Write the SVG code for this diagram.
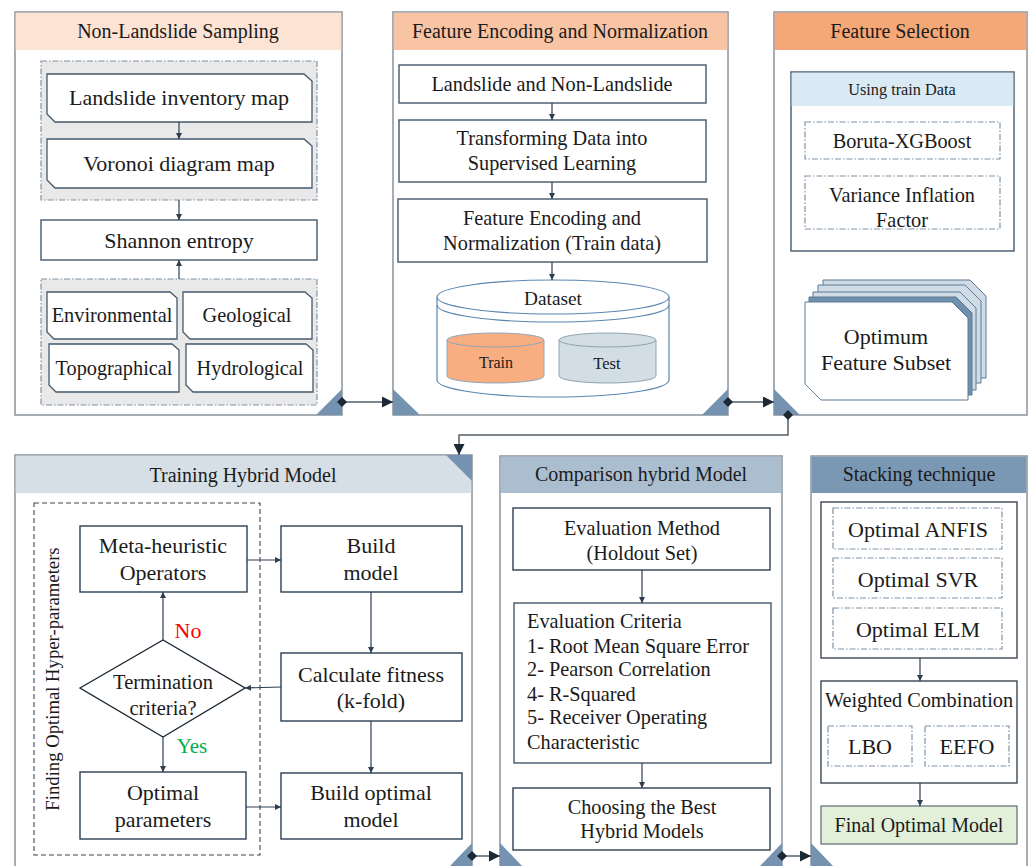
<svg xmlns="http://www.w3.org/2000/svg" width="1031" height="866" viewBox="0 0 1031 866" font-family="'Liberation Serif', 'Times New Roman', Times, serif">
<defs>
<style>
text{fill:#1b1b1b;text-anchor:middle;font-family:'Liberation Serif','Times New Roman',Times,serif}
text.l{text-anchor:start}
.panel{fill:#fff;stroke:#8a939c;stroke-width:1.5}
.box{fill:#fff;stroke:#2c3e50;stroke-width:1.4}
.cbox{fill:#fff;stroke:#44586c;stroke-width:1.3}
.grp{fill:#e9e9e9;stroke:#7f93a8;stroke-width:1.2;stroke-dasharray:6 2 1.5 2}
.dbox{fill:#fff;stroke:#7f93a8;stroke-width:1.2;stroke-dasharray:6 2 1.5 2}
.tri{fill:#7593b0;stroke:none}
.ln{fill:none;stroke:#2c3e50;stroke-width:1.2}
.cn{fill:none;stroke:#555f69;stroke-width:1.5}
.t22{font-size:22px}
.t20{font-size:20.3px}
.hd{font-size:20px}
</style>
<marker id="ah" viewBox="0 0 10 10" refX="10" refY="5" markerWidth="6" markerHeight="6" markerUnits="userSpaceOnUse" orient="auto"><path d="M0,0 L10,5 L0,10 z" fill="#2c3e50"/></marker>
<marker id="ahb" viewBox="0 0 10 10" refX="10" refY="5" markerWidth="11" markerHeight="11" markerUnits="userSpaceOnUse" orient="auto"><path d="M0,0 L10,5 L0,10 z" fill="#1c2833"/></marker>
<marker id="dm" viewBox="0 0 10 10" refX="5" refY="5" markerWidth="10" markerHeight="10" markerUnits="userSpaceOnUse" orient="auto"><path d="M5,0 L10,5 L5,10 L0,5 z" fill="#1c2833"/></marker>
</defs>

<!-- Panel 1 -->
<g id="panel-non-landslide">
<rect class="panel" x="15" y="12" width="327" height="403"/>
<rect x="15.75" y="12.75" width="325.5" height="37.25" fill="#fce3d4"/>
<text class="hd" x="178" y="38">Non-Landslide Sampling</text>
<rect class="grp" x="41" y="61" width="276" height="139"/>
<path class="cbox" d="M47,74 H304 L312,81 V122 H55 L47,114 Z"/>
<text class="t22" x="179" y="105">Landslide inventory map</text>
<path class="cbox" d="M47,139 H304 L312,146 V188 H55 L47,180 Z"/>
<text class="t22" x="179" y="171">Voronoi diagram map</text>
<rect class="box" x="41" y="220" width="276" height="40" style="stroke:#44586c"/>
<text class="t22" x="179" y="248">Shannon entropy</text>
<rect class="grp" x="41" y="279" width="276" height="126"/>
<path class="cbox" d="M47,292 H170 L177,298 V339 H54 L47,332 Z"/>
<text class="t20" x="112" y="322">Environmental</text>
<path class="cbox" d="M183,292 H305 L312,298 V339 H190 L183,332 Z"/>
<text class="t20" x="247" y="322">Geological</text>
<path class="cbox" d="M49,344 H172 L179,350 V392 H56 L49,385 Z"/>
<text class="t20" x="114" y="375">Topographical</text>
<path class="cbox" d="M186,344 H306 L313,350 V392 H193 L186,385 Z"/>
<text class="t20" x="250" y="375">Hydrological</text>
<path class="tri" d="M342,389 V415 H316 Z"/>
</g>

<!-- Panel 2 -->
<g id="panel-encoding">
<rect class="panel" x="393" y="12" width="335" height="403"/>
<rect x="393.75" y="12.75" width="333.5" height="37.25" fill="#f9c4a4"/>
<text class="hd" x="560" y="38">Feature Encoding and Normalization</text>
<rect class="box" x="399" y="65" width="307" height="38" style="stroke:#44586c"/>
<text class="t20" x="552" y="91">Landslide and Non-Landslide</text>
<rect class="box" x="399" y="120" width="307" height="62" style="stroke:#44586c"/>
<text class="t20" x="552" y="145">Transforming Data into</text>
<text class="t20" x="552" y="170">Supervised Learning</text>
<rect class="box" x="398" y="199" width="309" height="63" style="stroke:#44586c"/>
<text class="t20" x="552" y="225">Feature Encoding and</text>
<text class="t20" x="552" y="250">Normalization (Train data)</text>
<g id="dataset">
<path d="M437,297 V380 A116,17 0 0 0 669,380 V297" fill="#fff" stroke="#5b86b0" stroke-width="1.2"/>
<ellipse cx="553" cy="297" rx="116" ry="17" fill="#fff" stroke="#5b86b0" stroke-width="1.2"/>
<path d="M437,305 A116,17 0 0 0 669,305" fill="none" stroke="#5b86b0" stroke-width="1.2"/>
<text x="553" y="305" style="font-size:19.3px">Dataset</text>
<path d="M447,340 V376 A48.5,7 0 0 0 544,376 V340" fill="#f8ae80" stroke="#8fa6bc" stroke-width="1"/>
<ellipse cx="495.5" cy="340" rx="48.5" ry="7" fill="#f8ae80" stroke="#8fa6bc" stroke-width="1"/>
<text x="496" y="368" style="font-size:16px">Train</text>
<path d="M559,340 V376 A48.5,7 0 0 0 656,376 V340" fill="#d3dde4" stroke="#8fa3b5" stroke-width="1"/>
<ellipse cx="607.5" cy="340" rx="48.5" ry="7" fill="#d3dde4" stroke="#8fa3b5" stroke-width="1"/>
<text x="607" y="369" style="font-size:16.5px">Test</text>
</g>
<path class="tri" d="M393,389 V415 H420 Z"/>
<path class="tri" d="M728,389 V415 H702 Z"/>
</g>

<!-- Panel 3 -->
<g id="panel-selection">
<rect class="panel" x="774" y="12" width="253" height="403"/>
<rect x="774.75" y="12.75" width="251.5" height="37.25" fill="#f4a878"/>
<text class="hd" x="900" y="38">Feature Selection</text>
<rect class="box" x="791" y="72" width="223" height="179" style="stroke:#44586c"/>
<rect x="791.7" y="72.7" width="221.6" height="33.3" fill="#daeaf5"/>
<text x="902" y="95" style="font-size:16.3px">Using train Data</text>
<rect class="dbox" x="805" y="122" width="195" height="37"/>
<text class="t20" x="902" y="148">Boruta-XGBoost</text>
<rect class="dbox" x="805" y="176" width="195" height="53"/>
<text class="t20" x="902" y="202">Variance Inflation</text>
<text class="t20" x="902" y="227">Factor</text>
<g id="stack">
<path d="M823,280 H970 L986,296 V378 H839 L823,362 Z" fill="#cfdbe5" stroke="#5f7a94" stroke-width="1"/>
<path d="M818,285 H965 L981,301 V383 H834 L818,367 Z" fill="#cfdbe5" stroke="#5f7a94" stroke-width="1"/>
<path d="M813,292 H960 L976,308 V390 H829 L813,374 Z" fill="#cfdbe5" stroke="#5f7a94" stroke-width="1"/>
<path d="M809,297 H956 L972,313 V395 H825 L809,379 Z" fill="#6f8fae" stroke="#5f7a94" stroke-width="1"/>
<path d="M805,302 H952 L968,318 V400 H821 L805,384 Z" fill="#fff" stroke="#5f7a94" stroke-width="1"/>
<text class="t22" x="886" y="344">Optimum</text>
<text class="t22" x="886" y="370">Feature Subset</text>
</g>
<path class="tri" d="M774,389 V415 H800 Z"/>
</g>

<!-- Panel 4 -->
<g id="panel-training">
<rect class="panel" x="15" y="455" width="457" height="420"/>
<rect x="15.75" y="455.75" width="455.5" height="37.25" fill="#d6dfe6"/>
<text class="hd" x="243" y="482">Training Hybrid Model</text>
<path class="tri" d="M446,455 H472 V481 Z"/>
<rect x="34" y="503" width="226" height="352" fill="none" stroke="#3c4650" stroke-width="1.1" stroke-dasharray="5 3"/>
<text transform="translate(59,679) rotate(-90)" style="font-size:18.7px">Finding Optimal Hyper-parameters</text>
<g id="meta"><rect class="box" x="80" y="526" width="167" height="66"/>
<text class="t22" x="163" y="553">Meta-heuristic</text><text class="t22" x="163" y="580">Operators</text></g>
<g id="build"><rect class="box" x="281" y="526" width="181" height="66"/>
<text class="t22" x="371" y="553">Build</text><text class="t22" x="371" y="580">model</text></g>
<g id="calc"><rect class="box" x="281" y="653" width="181" height="68"/>
<text class="t22" x="371" y="682">Calculate fitness</text><text class="t22" x="371" y="708">(k-fold)</text></g>
<g id="term"><path d="M80,688 L163,640 L245,688 L163,737 Z" fill="#fff" stroke="#1c2833" stroke-width="1.4"/>
<text x="163" y="689" style="font-size:20.5px">Termination</text><text x="163" y="715" style="font-size:20.5px">criteria?</text></g>
<g id="optpar"><rect class="box" x="80" y="772" width="166" height="67"/>
<text class="t22" x="163" y="800">Optimal</text><text class="t22" x="163" y="827">parameters</text></g>
<g id="buildopt"><rect class="box" x="281" y="773" width="181" height="66"/>
<text class="t22" x="371" y="800">Build optimal</text><text class="t22" x="371" y="827">model</text></g>
<text x="188" y="638" style="font-size:22px;fill:#ff0000">No</text>
<text x="192" y="753" style="font-size:21px;fill:#00b050">Yes</text>
<path class="tri" d="M472,843 V866 H450 Z"/>
</g>

<!-- Panel 5 -->
<g id="panel-comparison">
<rect class="panel" x="500" y="456" width="282" height="420"/>
<rect x="500.75" y="456.75" width="280.5" height="36.25" fill="#abbecf"/>
<text class="hd" x="641" y="481">Comparison hybrid Model</text>
<rect class="box" x="513" y="508" width="257" height="62"/>
<text class="t20" x="642" y="535">Evaluation Method</text>
<text class="t20" x="642" y="560">(Holdout Set)</text>
<rect class="box" x="514" y="603" width="257" height="160" style="stroke:#44586c"/>
<text class="t20 l" x="527" y="628">Evaluation Criteria</text>
<text class="t20 l" x="527" y="653">1- Root Mean Square Error</text>
<text class="t20 l" x="527" y="676">2- Pearson Correlation</text>
<text class="t20 l" x="527" y="701">4- R-Squared</text>
<text class="t20 l" x="527" y="724">5- Receiver Operating</text>
<text class="t20 l" x="527" y="749">Characteristic</text>
<rect class="box" x="513" y="788" width="257" height="62"/>
<text class="t20" x="642" y="814">Choosing the Best</text>
<text class="t20" x="642" y="838">Hybrid Models</text>
<path class="tri" d="M500,843 V866 H522 Z"/>
<path class="tri" d="M782,843 V866 H760 Z"/>
</g>

<!-- Panel 6 -->
<g id="panel-stacking">
<rect class="panel" x="811" y="456" width="216" height="420"/>
<rect x="811.75" y="456.75" width="214.5" height="36.25" fill="#7a97b3"/>
<text class="hd" x="919" y="481">Stacking technique</text>
<rect class="box" x="821" y="502" width="196" height="156" style="stroke:#3c4650"/>
<rect class="dbox" x="833" y="508" width="169" height="41"/>
<text class="t22" x="918" y="537">Optimal ANFIS</text>
<rect class="dbox" x="833" y="558" width="169" height="40"/>
<text class="t22" x="918" y="587">Optimal SVR</text>
<rect class="dbox" x="833" y="608" width="169" height="41"/>
<text class="t22" x="918" y="637">Optimal ELM</text>
<rect class="box" x="821" y="681" width="196" height="102" style="stroke:#3c4650"/>
<text class="t20" x="919" y="707">Weighted Combination</text>
<rect class="dbox" x="828" y="726" width="84" height="40"/>
<text class="t22" x="870" y="754">LBO</text>
<rect class="dbox" x="925" y="726" width="84" height="40"/>
<text class="t22" x="967" y="754">EEFO</text>
<rect x="821" y="806" width="196" height="38" fill="#e2f0d9" stroke="#5d6a75" stroke-width="1.2"/>
<text class="hd" x="919" y="832">Final Optimal Model</text>
<path class="tri" d="M811,843 V866 H833 Z"/>
</g>

<!-- Connectors -->
<g id="connectors">
<line class="ln" x1="179" y1="122" x2="179" y2="139" marker-end="url(#ah)"/>
<line class="ln" x1="179" y1="200" x2="179" y2="220" marker-end="url(#ah)"/>
<line class="ln" x1="179" y1="279" x2="179" y2="260" marker-end="url(#ah)"/>
<line class="ln" x1="552" y1="103" x2="552" y2="120" marker-end="url(#ah)"/>
<line class="ln" x1="552" y1="182" x2="552" y2="199" marker-end="url(#ah)"/>
<line class="ln" x1="552" y1="262" x2="552" y2="280" marker-end="url(#ah)"/>
<line class="ln" x1="247" y1="560" x2="281" y2="560" marker-end="url(#ah)"/>
<line class="ln" x1="371" y1="592" x2="371" y2="653" marker-end="url(#ah)"/>
<line class="ln" x1="281" y1="687" x2="245" y2="688" marker-end="url(#ah)"/>
<line class="ln" x1="163" y1="640" x2="163" y2="592" marker-end="url(#ah)"/>
<line class="ln" x1="163" y1="737" x2="163" y2="772" marker-end="url(#ah)"/>
<line class="ln" x1="246" y1="807" x2="281" y2="807" marker-end="url(#ah)"/>
<line class="ln" x1="371" y1="721" x2="371" y2="773" marker-end="url(#ah)"/>
<line class="ln" x1="642" y1="570" x2="642" y2="603" marker-end="url(#ah)"/>
<line class="ln" x1="642" y1="763" x2="642" y2="788" marker-end="url(#ah)"/>
<line class="ln" x1="920" y1="658" x2="920" y2="681" marker-end="url(#ah)"/>
<line class="ln" x1="920" y1="783" x2="920" y2="806" marker-end="url(#ah)"/>
<path class="cn" d="M342,402 H393" marker-start="url(#dm)" marker-end="url(#ahb)"/>
<path class="cn" d="M728,402 H774" marker-start="url(#dm)" marker-end="url(#ahb)"/>
<path class="cn" d="M788,415 V435 H459 V455" marker-start="url(#dm)" marker-end="url(#ahb)"/>
<path class="cn" d="M472,856 H500" marker-start="url(#dm)" marker-end="url(#ahb)"/>
<path class="cn" d="M782,856 H811" marker-start="url(#dm)" marker-end="url(#ahb)"/>
</g>
</svg>
